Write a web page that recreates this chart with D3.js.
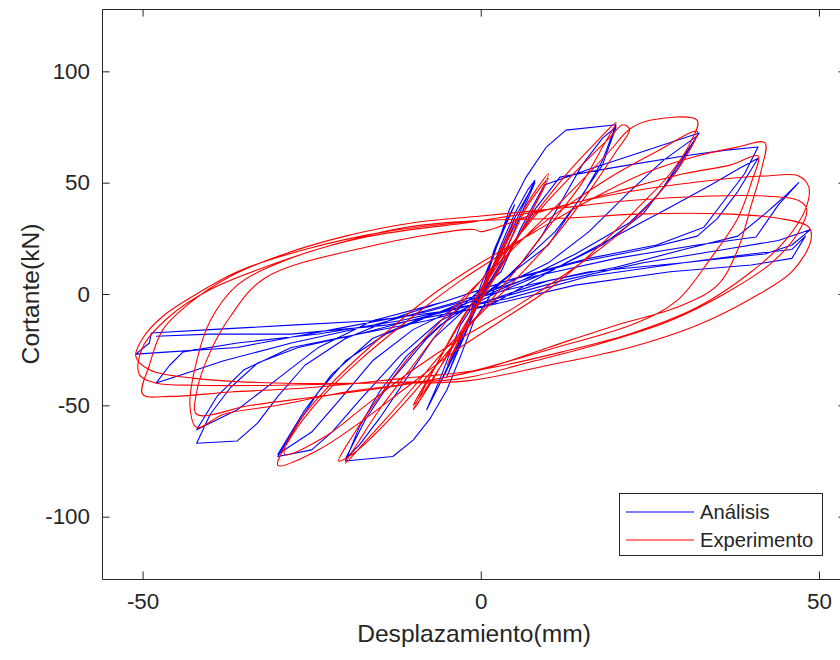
<!DOCTYPE html>
<html>
<head>
<meta charset="utf-8">
<script src="https://cdn.jsdelivr.net/npm/d3@7"></script>
<style>
  html, body { margin: 0; padding: 0; background: #fff; overflow: hidden; }
  svg { display: block; }
  text { font-family: "Liberation Sans", Arial, Helvetica, sans-serif; fill: #262626; }
</style>
</head>
<body>
<svg id="chart" width="840" height="660"></svg>
<script>
// ---- data (displacement mm, shear kN) ----
const xTicks = [-50, 0, 50];
const yTicks = [-100, -50, 0, 50, 100];
const xDomain = [-56, 54];
const yDomain = [-128, 128];
const seriesNames = ["Análisis", "Experimento"];
const seriesColors = ["#0000ff", "#ff0000"];
const xLabel = "Desplazamiento(mm)";
const yLabel = "Cortante(kN)";

const analisis = [
  [0,0],[2,20],[4,34],[5,40],[3,26],[0,4],[-2,-16],[-4,-30],[-5,-37],[-3,-22],[0,-2],
  [3,22],[5,36],[7,47],[8,51],[6,38],[3,18],[0,2],[-3,-20],[-5,-34],[-7,-46],[-8,-52],[-6,-40],[-3,-20],[0,0],
  [3,20],[5,34],[8,50],[6,36],[3,14],[-1,-6],[-4,-28],[-8,-52],[-6,-38],[-3,-14],[0,0],
  [2,18],[4.2,37.7],[6.7,52.5],[9.7,66],[12.6,73.6],[20,76],
  [18,60],[15,44],[11,28],[6,14],[2,2],[-1,-12],[-3,-28],[-5,-43],[-7.5,-56],[-10,-65.6],[-13,-73],[-20,-75],
  [-18,-60],[-15,-44],[-11,-28],[-6,-14],[0,-2],[5,10],[9,26],[12,42],[15,58],[18,70],[20,75],
  [18,58],[14,40],[10,22],[4,8],[-2,-6],[-7,-20],[-11,-38],[-15,-56],[-18,-68],[-20,-74],
  [-17,-56],[-13,-38],[-8,-20],[-3,-6],
  [3,10],[6,30],[9.4,49],[16,56],[24,64],[32.3,72.3],
  [30,62],[27,48],[24,36],[18,22],[10,10],[2,0],[-6,-12],[-12,-28],[-18,-48],[-22,-62],[-25,-70],[-30,-73],
  [-27,-58],[-24,-44],[-20,-30],[-14,-18],[-6,-8],[2,2],[10,14],[16,28],[22,46],[27,60],[32,71],
  [29,56],[26,44],[22,32],[14,18],[6,6],[-2,-4],[-10,-16],[-16,-30],[-21,-48],[-25,-62],[-30,-72],
  [-26,-52],[-22,-36],[-16,-20],[-8,-10],[0,-2],
  [4,18],[8,38],[11.7,52.5],[20,57],[30,62],[36,64.5],[41,66],
  [39,54],[36,42],[33,30],[26,22],[16,16],[6,8],[-4,-2],[-12,-10],[-20,-20],[-26,-32],[-30,-46],[-33,-58],[-36,-66],[-42,-67],
  [-40,-54],[-37,-42],[-33,-31],[-27,-24],[-18,-18],[-8,-12],[2,-4],[12.6,14],[20,26],[28,39],[34,49],[38,56],[41,61],
  [38,46],[35,34],[32,26],[24,20],[14,14],[4,6],[-6,-4],[-16,-12],[-24,-24],[-30,-38],[-36,-52],[-42,-61],
  [-39,-46],[-35,-34],[-28,-24],[-18,-18],[-8,-10],[0,-4],
  [10,6],[20,12],[30,20],[38,26],[42,36],[45,44],[47,50],
  [44,40],[40.7,25.6],[32,22],[20,16],[8,8],[-4,-4],[-16,-14],[-28,-22],[-38,-30],[-44,-36],[-48,-40],
  [-46,-32],[-44,-26],[-36,-22],[-24,-18],[-12,-12],[0,-4],[12,6],[24,14],[36,20],[44,24],[48.8,29],
  [46,22],[42,18],[30,14],[16,10],[4,2],[-8,-8],[-22,-16],[-36,-24],[-46,-26],[-51,-27],
  [-49,-22],[-48.7,-17.5],[-40,-16],[-28,-14],[-16,-12],[-6,-8],[4,-2],[16,8],[30,14],[40,18],[46,20],[48,26],
  [46,16],[40,13],[28,10],[14,4],[0,-6],[-14,-14],[-28,-18],[-40,-18],[-48,-19]
];

const experimento = [
  [0,0],[2,14],[4,27],[5,33],[3,19],[0,2],[-2,-13],[-4,-26],[-5,-32],[-3,-19],[0,-1],
  [3,18],[6,36],[8,46],[10,54],[8,40],[4,18],[0,-2],[-4,-22],[-7,-38],[-10,-52],[-8,-40],[-4,-18],[0,2],
  [4,22],[7,40],[10,52],[7,34],[3,12],[-1,-8],[-5,-28],[-8,-42],[-10,-50],[-7,-34],[-3,-12],[1,6],
  [5,24],[9,40],[13,55],[17,68],[20,77],[18,66],[15,50],[10,30],[5,10],[0,-8],[-5,-24],[-10,-42],[-14,-56],[-17,-66],[-20,-76],
  [-18,-66],[-15,-52],[-10,-32],[-5,-12],[0,6],[5,24],[10,42],[15,58],[19,70],[21,76],[22,74],
  [20,64],[16,46],[11,26],[5,6],[-1,-12],[-6,-30],[-11,-48],[-16,-64],[-19,-72],[-21,-75],
  [-19,-64],[-15,-46],[-10,-26],[-4,-6],
  [2,12],[8,30],[14,48],[19,64],[22,74],[25,78],[32,78],[31,68],[28,54],[23,38],[17,20],[10,2],[3,-12],[-4,-26],[-11,-42],[-18,-58],[-24,-70],[-30,-77],
  [-28,-64],[-24,-48],[-18,-30],[-10,-10],[-3,6],[4,20],[12,38],[20,54],[26,64],[32,73],
  [30,60],[26,44],[20,26],[13,10],[5,-6],[-3,-20],[-10,-34],[-17,-50],[-23,-64],[-29,-72],
  [-27,-58],[-22,-40],[-15,-20],[-7,0],[0,14],
  [8,28],[16,42],[24,54],[32,62],[38,66],[42,68],[41.5,56],[40,40],[38,20],[35,4],[29,-6],[20,-14],[10,-24],[0,-34],[-10,-40],[-20,-44],[-30,-50],[-38,-54],[-42,-60],
  [-43,-50],[-42,-30],[-40,-12],[-36,4],[-29,15],[-17,25.6],[-2,32],[0,33],[10,38],[20,46],[30,54],[37,58],[41,62],
  [40,50],[38,34],[34,16],[29,-3],[23,-13],[10,-25],[-3,-36],[-14,-42],[-24,-46],[-34,-50],[-42,-54],
  [-42,-44],[-40,-26],[-37,-10],[-32,7],[-17,21],[-1,29],[0,28],
  [10,38],[22,46],[34,51],[42,53],[47,53],[48.5,48],[48,38],[45,24],[40,10],[32,-6],[22,-18],[12,-26],[0,-34],[-12,-38],[-25,-42],[-37,-44],[-46,-46],[-50,-45],
  [-49,-32],[-47,-16],[-43,-4],[-37,8],[-29,18],[-20,26],[-10,32],[0,35],
  [10,38],[22,42],[34,44],[42,44],[47,42],[48.2,38],[47,28],[43,14],[36,0],[28,-12],[18,-22],[8,-30],[-3,-38],[-16,-40],[-30,-41],[-42,-41],[-48,-40],
  [-50.5,-36],[-50,-24],[-46,-10],[-40,2],[-32,12],[-22,22],[-11,30],[0,33],
  [12,34],[24,36],[36,36],[44,34],[48.5,30],[48.8,24],[46,10],[40,-2],[32,-14],[22,-24],[10,-32],[-2,-39],[-16,-40],[-30,-40],[-42,-38],[-49,-34],[-51,-28],
  [-50,-20],[-47,-10],[-42,0],[-36,10],[-26,20],[-14,28],[0,33]
];

// ---- layout ----
const svg = d3.select("#chart");
const mLeft = 102, mRight = 846, mTop = 9, mBottom = 579;
const x = d3.scaleLinear().domain(xDomain).range([mLeft, mRight]);
const y = d3.scaleLinear().domain(yDomain).range([mBottom, mTop]);
const axisColor = "#262626";
const tickLen = 7.6;
const fmt = d => String(d);

svg.append("defs").append("clipPath").attr("id", "plotclip")
  .append("rect").attr("x", mLeft).attr("y", mTop).attr("width", mRight - mLeft).attr("height", mBottom - mTop);

const plot = svg.append("g").attr("clip-path", "url(#plotclip)");

const blueLine = d3.line().x(d => x(d[0])).y(d => y(d[1])).curve(d3.curveLinear);
const redLine = d3.line().x(d => x(d[0])).y(d => y(d[1])).curve(d3.curveCatmullRom.alpha(0.5));

plot.append("path").datum(analisis).attr("d", blueLine)
  .attr("fill", "none").attr("stroke", seriesColors[0]).attr("stroke-width", 1.1).attr("stroke-linejoin", "round");
plot.append("path").datum(experimento).attr("d", redLine)
  .attr("fill", "none").attr("stroke", seriesColors[1]).attr("stroke-width", 1.1).attr("stroke-linejoin", "round");

// axes (MATLAB-like box with inward ticks)
const xAxisB = d3.axisBottom(x).tickValues(xTicks).tickSizeInner(-tickLen).tickSizeOuter(0).tickPadding(14).tickFormat(fmt);
const xAxisT = d3.axisTop(x).tickValues(xTicks).tickSizeInner(-tickLen).tickSizeOuter(0).tickFormat("");
const yAxisL = d3.axisLeft(y).tickValues(yTicks).tickSizeInner(-tickLen).tickSizeOuter(0).tickPadding(12).tickFormat(fmt);
const yAxisR = d3.axisRight(y).tickValues(yTicks).tickSizeInner(-tickLen).tickSizeOuter(0).tickFormat("");

function style(g) {
  g.selectAll(".domain").attr("stroke", axisColor).attr("stroke-width", 1);
  g.selectAll(".tick line").attr("stroke", axisColor).attr("stroke-width", 1);
  g.selectAll(".tick text").attr("fill", axisColor).style("font-size", "22.4px")
    .style("font-family", '"Liberation Sans", Arial, Helvetica, sans-serif');
}
svg.append("g").attr("transform", `translate(0,${mBottom})`).call(xAxisB).call(style);
svg.append("g").attr("transform", `translate(0,${mTop})`).call(xAxisT).call(style);
svg.append("g").attr("transform", `translate(${mLeft},0)`).call(yAxisL).call(style);
svg.append("g").attr("transform", `translate(${mRight},0)`).call(yAxisR).call(style);

// axis labels
svg.append("text").attr("x", (mLeft + mRight) / 2).attr("y", 642).attr("text-anchor", "middle")
  .style("font-size", "24.6px").text(xLabel);
svg.append("text").attr("transform", `translate(39,${(mTop + mBottom) / 2}) rotate(-90)`).attr("text-anchor", "middle")
  .style("font-size", "24.6px").text(yLabel);

// legend
const lg = svg.append("g");
lg.append("rect").attr("x", 619.5).attr("y", 493.5).attr("width", 203).attr("height", 62)
  .attr("fill", "#fff").attr("stroke", axisColor).attr("stroke-width", 1);
seriesNames.forEach((name, i) => {
  const cy = 512 + i * 28;
  lg.append("line").attr("x1", 626).attr("x2", 694).attr("y1", cy).attr("y2", cy)
    .attr("stroke", seriesColors[i]).attr("stroke-width", 1.2);
  lg.append("text").attr("x", 700).attr("y", cy + 7).style("font-size", "20.2px").text(name);
});
</script>
</body>
</html>
